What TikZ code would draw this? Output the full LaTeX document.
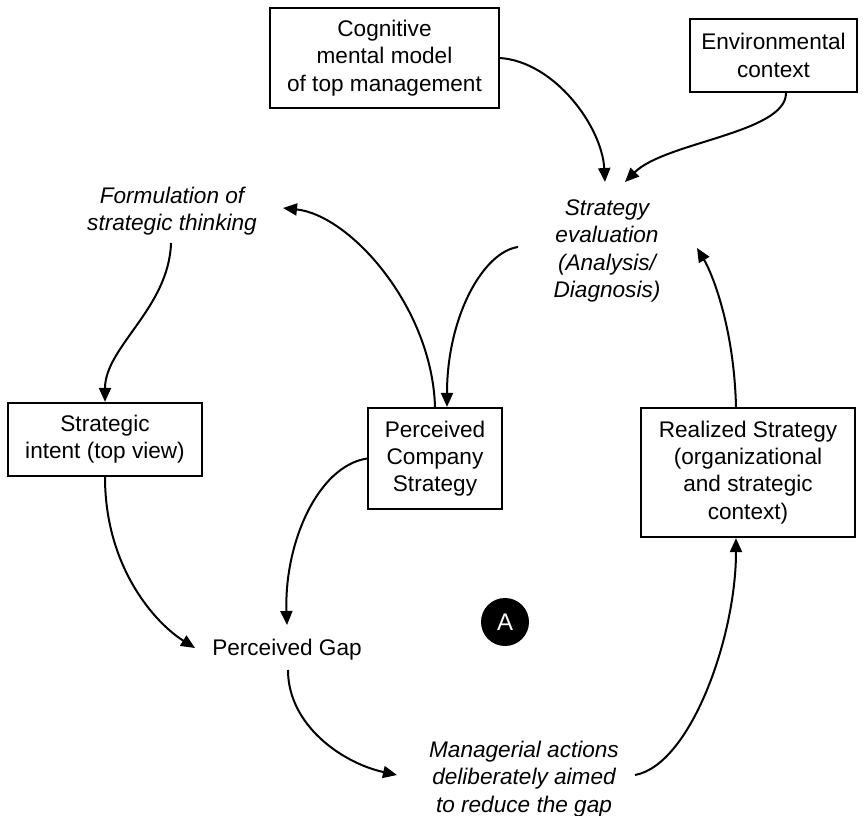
\documentclass[tikz,border=0pt]{standalone}
\usepackage{fontspec}
\setmainfont{Liberation Sans}
\usetikzlibrary{arrows.meta,calc}
\begin{document}
\begin{tikzpicture}[x=1pt,y=-1pt,
  every node/.style={font=\fontsize{22.6}{27.2}\selectfont},
  box/.style={draw, line width=2.2pt, align=center, inner sep=0pt},
  note/.style={align=center, inner sep=0pt,
    font=\fontsize{22.6}{27.2}\selectfont\itshape},
  link/.style={line width=2pt, -{Triangle[length=14pt,width=12pt]}},
  badge/.style={circle, fill=black, text=white, inner sep=0pt,
    minimum size=48pt, font=\fontsize{24}{28}\selectfont},
]
\path[use as bounding box] (0,0) rectangle (863,816);

% boxed elements
\node[box, minimum width=229pt, minimum height=100pt] (cog) at (384.5,58)
  {Cognitive\\mental model\\of top management};
\node[box, minimum width=167pt, minimum height=73pt] (env) at (773.5,55.5)
  {Environmental\\context};
\node[box, minimum width=194pt, minimum height=73pt] (intent) at (105,439.5)
  {Strategic\\intent (top view)};
\node[box, minimum width=134pt, minimum height=101pt] (pcs) at (435,458.5)
  {Perceived\\Company\\Strategy};
\node[box, minimum width=214pt, minimum height=129pt] (real) at (748,472.5)
  {Realized Strategy\\(organizational\\and strategic\\context)};

% free-standing labels
\node[note] (seval) at (607,251) {Strategy\\evaluation\\(Analysis/\\Diagnosis)};
\node[note] (form) at (172,211) {Formulation of\\strategic thinking};
\node[align=center, inner sep=0pt] (gap) at (287,650) {Perceived Gap};
\node[note] (mgr) at (524,779)
  {Managerial actions\\deliberately aimed\\to reduce the gap};
\node[badge] (A) at (505,622) {A};

% connectors
\draw[link] (cog.east) .. controls +(55,4) and +(-3,-55) ..
  ($(seval.center)+(-2,-69)$);
\draw[link] ($(env.south)+(12.5,0)$) .. controls +(0,40) and +(40,-40) ..
  ($(seval.center)+(18,-69)$);
\draw[link] ($(seval.center)+(-89,-4)$) .. controls +(-35,5) and +(0,-90) ..
  ($(pcs.north)+(12,0)$);
\draw[link] (pcs.north) .. controls +(-3,-100) and +(67,7) ..
  ($(form.center)+(111,-3)$);
\draw[link] ($(form.center)+(-1,32)$) .. controls +(-2,65) and +(0,-55) ..
  (intent.north);
\draw[link] (intent.south) .. controls +(0,90) and +(-40,-25) ..
  ($(gap.center)+(-92,-2)$);
\draw[link] (pcs.west) .. controls +(-50,8) and +(-3,-80) ..
  ($(gap.center)+(0,-25)$);
\draw[link] ($(gap.center)+(1,20)$) .. controls +(0,55) and +(-55,-12) ..
  ($(mgr.center)+(-127,-4)$);
\draw[link] ($(mgr.center)+(111,-4)$) .. controls +(55,-10) and +(0,100) ..
  ($(real.south)+(-12,0)$);
\draw[link] ($(real.north)+(-12,0)$) .. controls +(-2,-80) and +(15,25) ..
  ($(seval.center)+(90,-3)$);
\end{tikzpicture}
\end{document}
